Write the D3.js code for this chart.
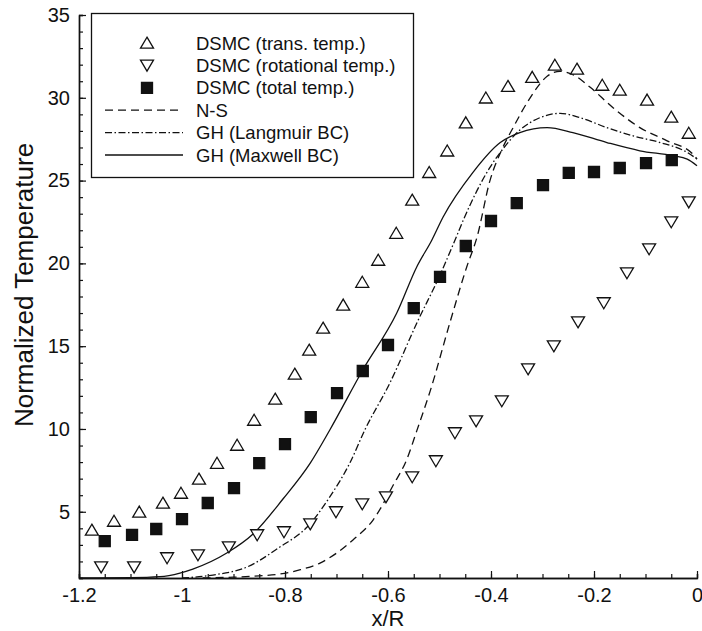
<!DOCTYPE html>
<html><head><meta charset="utf-8">
<script src="https://cdn.jsdelivr.net/npm/d3@7"></script>
<style>body{margin:0;background:#fff}svg{display:block}text{font-family:"Liberation Sans",Arial,sans-serif;fill:#111}</style>
</head><body><svg id="c" width="702" height="631"></svg>
<script>
// ---- data ----
const dsmcTrans = [[-1.175,3.9],[-1.132,4.44],[-1.083,4.99],[-1.037,5.53],[-1.002,6.13],[-0.967,6.98],[-0.932,7.94],[-0.893,9.03],[-0.860,10.54],[-0.819,11.81],[-0.781,13.32],[-0.753,14.77],[-0.726,16.1],[-0.687,17.49],[-0.650,18.87],[-0.619,20.2],[-0.584,21.83],[-0.553,23.83],[-0.520,25.5],[-0.485,26.8],[-0.449,28.5],[-0.410,30.0],[-0.367,30.7],[-0.320,31.25],[-0.276,31.98],[-0.233,31.74],[-0.184,30.77],[-0.150,30.47],[-0.097,29.87],[-0.050,28.84],[-0.016,27.87]];
const dsmcRot = [[-1.157,1.66],[-1.093,1.66],[-1.029,2.21],[-0.969,2.39],[-0.909,2.87],[-0.854,3.6],[-0.802,3.78],[-0.751,4.26],[-0.701,4.99],[-0.650,5.47],[-0.604,5.89],[-0.553,7.1],[-0.507,8.07],[-0.470,9.76],[-0.429,10.48],[-0.379,11.69],[-0.328,13.62],[-0.278,15.01],[-0.231,16.46],[-0.181,17.61],[-0.136,19.42],[-0.093,20.87],[-0.050,22.5],[-0.016,23.7]];
const dsmcTotal = [[-1.150,3.23],[-1.097,3.6],[-1.050,3.96],[-1.000,4.56],[-0.950,5.53],[-0.899,6.43],[-0.850,7.94],[-0.800,9.09],[-0.750,10.72],[-0.699,12.17],[-0.649,13.5],[-0.600,15.07],[-0.550,17.3],[-0.499,19.18],[-0.449,21.05],[-0.400,22.56],[-0.350,23.64],[-0.299,24.73],[-0.249,25.46],[-0.200,25.52],[-0.150,25.76],[-0.099,26.06],[-0.049,26.24]];
const nsCurve = [[-0.96,1.0],[-0.9,1.05],[-0.85,1.13],[-0.81,1.24],[-0.77,1.5],[-0.732,1.9],[-0.70,2.5],[-0.668,3.3],[-0.629,4.5],[-0.59,6.6],[-0.563,8.2],[-0.544,9.9],[-0.518,12.3],[-0.48,16.4],[-0.447,19.8],[-0.427,21.6],[-0.402,25.0],[-0.38,26.8],[-0.357,28.2],[-0.324,30.0],[-0.291,31.3],[-0.266,31.6],[-0.241,31.4],[-0.208,30.65],[-0.163,29.4],[-0.111,28.2],[-0.058,27.4],[-0.008,26.6],[0,26.3]];
const ghLangmuir = [[-1.0,1.0],[-0.94,1.18],[-0.874,1.66],[-0.81,2.87],[-0.757,4.08],[-0.713,5.9],[-0.674,7.95],[-0.645,9.94],[-0.596,12.8],[-0.544,16.4],[-0.499,19.3],[-0.47,21.4],[-0.454,22.6],[-0.402,25.8],[-0.382,26.7],[-0.344,28.05],[-0.305,28.8],[-0.266,29.06],[-0.227,28.8],[-0.175,28.2],[-0.124,27.7],[-0.072,27.3],[-0.019,26.7],[0,26.3]];
const ghMaxwell = [[-1.2,1.0],[-1.1,1.02],[-1.043,1.08],[-1.004,1.3],[-0.979,1.54],[-0.913,2.51],[-0.862,3.66],[-0.804,5.77],[-0.751,7.94],[-0.713,9.94],[-0.649,13.56],[-0.583,17.0],[-0.544,19.8],[-0.515,21.4],[-0.493,22.8],[-0.435,25.5],[-0.382,27.3],[-0.344,27.9],[-0.291,28.2],[-0.241,27.9],[-0.175,27.3],[-0.111,26.8],[-0.047,26.5],[-0.019,26.3],[0,25.9]];
const xTickValues = [-1.2,-1,-0.8,-0.6,-0.4,-0.2,0];
const xTickLabels = ["-1.2","-1","-0.8","-0.6","-0.4","-0.2","0"];
const yTickValues = [5,10,15,20,25,30,35];
const yTickLabels = ["5","10","15","20","25","30","35"];
const legendLabels = ["DSMC (trans. temp.)","DSMC (rotational temp.)","DSMC (total temp.)","N-S","GH (Langmuir BC)","GH (Maxwell BC)"];
const xTitle = "x/R", yTitle = "Normalized Temperature";

// ---- layout ----
const svg = d3.select("#c");
const L = 79, R = 697, T = 15, B = 578;
const x = d3.scaleLinear().domain([-1.2, 0]).range([L, R]);
const y = d3.scaleLinear().domain([1, 35]).range([B, T]);

// axes
const gx = svg.append("g").attr("transform", `translate(0,${B})`);
gx.call(d3.axisBottom(x).tickValues(d3.range(-1.2, 0.0001, 0.05)).tickSize(-4).tickFormat(""));
const gx2 = svg.append("g").attr("transform", `translate(0,${B})`);
gx2.call(d3.axisBottom(x).tickValues(xTickValues).tickSizeInner(-7).tickSizeOuter(0).tickPadding(10)
  .tickFormat((d,i) => xTickLabels[i]));
const gy = svg.append("g").attr("transform", `translate(${L},0)`);
gy.call(d3.axisLeft(y).tickValues(d3.range(1, 35.5, 1)).tickSize(-4).tickFormat(""));
const gy2 = svg.append("g").attr("transform", `translate(${L},0)`);
gy2.call(d3.axisLeft(y).tickValues(yTickValues).tickSizeInner(-7).tickSizeOuter(0).tickPadding(9)
  .tickFormat((d,i) => yTickLabels[i]));
svg.selectAll(".domain").attr("stroke", "#111").attr("stroke-width", 1.4);
svg.selectAll(".tick line").attr("stroke", "#111").attr("stroke-width", 1.2);
svg.selectAll(".tick text").attr("font-size", 20).attr("font-family", '"Liberation Sans",Arial,sans-serif').attr("fill", "#111");

// titles
svg.append("text").attr("x", (L + R) / 2).attr("y", 626).attr("text-anchor", "middle").attr("font-size", 22).text(xTitle);
svg.append("text").attr("transform", `translate(33,285) rotate(-90)`).attr("text-anchor", "middle").attr("font-size", 26).text(yTitle);

// lines
const clip = svg.append("clipPath").attr("id", "pc").append("rect").attr("x", L).attr("y", T).attr("width", R - L + 2).attr("height", B - T);
const line = d3.line().x(d => x(d[0])).y(d => y(d[1])).curve(d3.curveMonotoneX);
const lineStyles = [
  {data: nsCurve, dash: "8,5"},
  {data: ghLangmuir, dash: "7,2.5,1.5,2.5"},
  {data: ghMaxwell, dash: null}
];
lineStyles.forEach(s => {
  svg.append("path").attr("d", line(s.data)).attr("fill", "none").attr("stroke", "#111")
    .attr("stroke-width", 1.3).attr("stroke-dasharray", s.dash).attr("clip-path", "url(#pc)");
});

// markers
const triUp = "M0,-5.8L6.5,5.2L-6.5,5.2Z";
const triDown = "M0,5.8L6.5,-5.2L-6.5,-5.2Z";
const sq = "M-5.5,-5.5H5.5V5.5H-5.5Z";
function marks(data, path, fill) {
  svg.append("g").selectAll("path").data(data).join("path")
    .attr("d", path).attr("transform", d => `translate(${x(d[0])},${y(d[1])})`)
    .attr("fill", fill).attr("stroke", "#111").attr("stroke-width", 1.3);
}
marks(dsmcTrans, triUp, "#fff");
marks(dsmcRot, triDown, "#fff");
marks(dsmcTotal, sq, "#111");

// legend
const lg = svg.append("g");
lg.append("rect").attr("x", 91.5).attr("y", 13.5).attr("width", 322).attr("height", 164)
  .attr("fill", "#fff").attr("stroke", "#111").attr("stroke-width", 1.3);
const symPaths = [triUp, triDown, sq];
const symFill = ["#fff", "#fff", "#111"];
legendLabels.forEach((lab, i) => {
  const cy = 43 + i * 22.4;
  if (i < 3) {
    lg.append("path").attr("d", symPaths[i]).attr("transform", `translate(147,${cy})`)
      .attr("fill", symFill[i]).attr("stroke", "#111").attr("stroke-width", 1.3);
  } else {
    lg.append("line").attr("x1", 105).attr("x2", 183).attr("y1", cy).attr("y2", cy)
      .attr("stroke", "#111").attr("stroke-width", 1.3).attr("stroke-dasharray", lineStyles[i - 3].dash);
  }
  lg.append("text").attr("x", 196).attr("y", cy + 6.5).attr("font-size", 18.5).text(lab);
});
</script></body></html>
